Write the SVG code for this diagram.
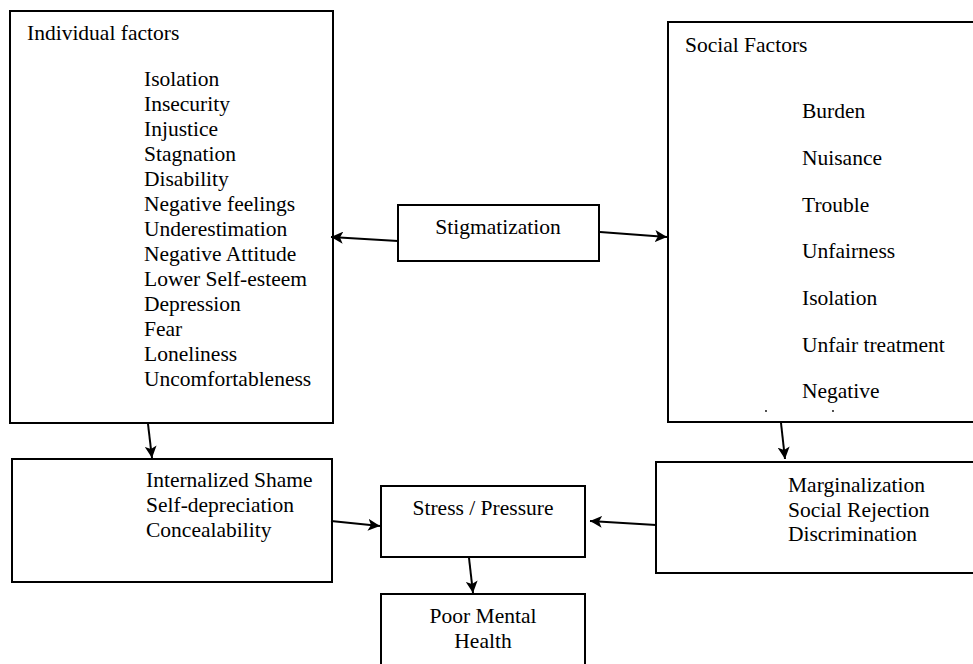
<svg xmlns="http://www.w3.org/2000/svg" width="973" height="664" viewBox="0 0 973 664">
<defs>
<marker id="ah" markerUnits="userSpaceOnUse" markerWidth="14" markerHeight="12" refX="12" refY="6" orient="auto">
<path d="M0,0 L12,6 L0,12 L3,6 z" fill="#000"/>
</marker>
</defs>
<rect width="973" height="664" fill="#fff"/>
<g id="individual">
<rect x="10" y="11" width="323" height="412" fill="#fff" stroke="#000" stroke-width="2"/>
<text x="27" y="40" font-family="Liberation Serif" font-size="21.5">Individual factors</text>
<text x="144" y="86" font-family="Liberation Serif" font-size="21.5">Isolation</text>
<text x="144" y="111" font-family="Liberation Serif" font-size="21.5">Insecurity</text>
<text x="144" y="136" font-family="Liberation Serif" font-size="21.5">Injustice</text>
<text x="144" y="161" font-family="Liberation Serif" font-size="21.5">Stagnation</text>
<text x="144" y="186" font-family="Liberation Serif" font-size="21.5">Disability</text>
<text x="144" y="211" font-family="Liberation Serif" font-size="21.5">Negative feelings</text>
<text x="144" y="236" font-family="Liberation Serif" font-size="21.5">Underestimation</text>
<text x="144" y="261" font-family="Liberation Serif" font-size="21.5">Negative Attitude</text>
<text x="144" y="286" font-family="Liberation Serif" font-size="21.5">Lower Self-esteem</text>
<text x="144" y="311" font-family="Liberation Serif" font-size="21.5">Depression</text>
<text x="144" y="336" font-family="Liberation Serif" font-size="21.5">Fear</text>
<text x="144" y="361" font-family="Liberation Serif" font-size="21.5">Loneliness</text>
<text x="144" y="386" font-family="Liberation Serif" font-size="21.5">Uncomfortableness</text>
</g>
<g id="social">
<rect x="668" y="22" width="310" height="400" fill="#fff" stroke="#000" stroke-width="2"/>
<text x="685" y="52" font-family="Liberation Serif" font-size="21.5">Social Factors</text>
<text x="802" y="118" font-family="Liberation Serif" font-size="21.5">Burden</text>
<text x="802" y="165" font-family="Liberation Serif" font-size="21.5">Nuisance</text>
<text x="802" y="212" font-family="Liberation Serif" font-size="21.5">Trouble</text>
<text x="802" y="258" font-family="Liberation Serif" font-size="21.5">Unfairness</text>
<text x="802" y="305" font-family="Liberation Serif" font-size="21.5">Isolation</text>
<text x="802" y="352" font-family="Liberation Serif" font-size="21.5">Unfair treatment</text>
<text x="802" y="398" font-family="Liberation Serif" font-size="21.5">Negative</text>
<circle cx="766" cy="411" r="0.9" fill="#000"/>
<circle cx="833" cy="411" r="0.9" fill="#000"/>
</g>
<g id="stigmatization">
<rect x="398" y="205" width="201" height="56" fill="#fff" stroke="#000" stroke-width="2"/>
<text x="498" y="234" font-family="Liberation Serif" font-size="21.5" text-anchor="middle">Stigmatization</text>
</g>
<g id="internalized">
<rect x="12" y="459" width="320" height="123" fill="#fff" stroke="#000" stroke-width="2"/>
<text x="146" y="487" font-family="Liberation Serif" font-size="21.5">Internalized Shame</text>
<text x="146" y="512" font-family="Liberation Serif" font-size="21.5">Self-depreciation</text>
<text x="146" y="537" font-family="Liberation Serif" font-size="21.5">Concealability</text>
</g>
<g id="stress">
<rect x="381" y="486" width="204" height="71" fill="#fff" stroke="#000" stroke-width="2"/>
<text x="483" y="515" font-family="Liberation Serif" font-size="21.5" text-anchor="middle">Stress / Pressure</text>
</g>
<g id="marginalization">
<rect x="656" y="462" width="322" height="111" fill="#fff" stroke="#000" stroke-width="2"/>
<text x="788" y="492" font-family="Liberation Serif" font-size="21.5">Marginalization</text>
<text x="788" y="517" font-family="Liberation Serif" font-size="21.5">Social Rejection</text>
<text x="788" y="541" font-family="Liberation Serif" font-size="21.5">Discrimination</text>
</g>
<g id="poor">
<rect x="381" y="594" width="204" height="80" fill="#fff" stroke="#000" stroke-width="2"/>
<text x="483" y="623" font-family="Liberation Serif" font-size="21.5" text-anchor="middle">Poor Mental</text>
<text x="483" y="648" font-family="Liberation Serif" font-size="21.5" text-anchor="middle">Health</text>
</g>
<g id="connectors" stroke="#000" stroke-width="2" marker-end="url(#ah)">
<line x1="398" y1="241" x2="331" y2="237"/>
<line x1="600" y1="232" x2="667" y2="237"/>
<line x1="148" y1="424" x2="152" y2="458"/>
<line x1="781" y1="423" x2="785" y2="459"/>
<line x1="331" y1="521" x2="380" y2="526"/>
<line x1="656" y1="525" x2="590" y2="521"/>
<line x1="469" y1="558" x2="473" y2="593"/>
</g>
</svg>
